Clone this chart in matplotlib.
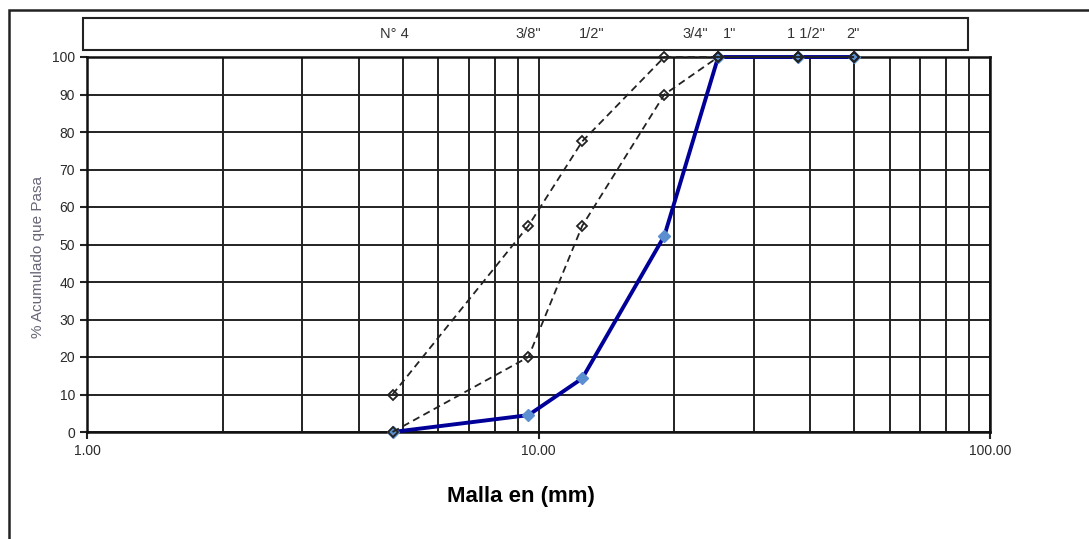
import numpy as np
import matplotlib
matplotlib.use('Agg')
import matplotlib.pyplot as plt
from matplotlib.patches import Rectangle
from matplotlib.transforms import blended_transform_factory

plt.rcParams['font.family'] = ['Liberation Sans', 'DejaVu Sans']

# datos de la granulometria
tamiz = [4.75, 9.5, 12.5, 19.0, 25.0, 37.5, 50.0]
pasa_muestra = [0, 4.5, 14.3, 52.3, 100, 100, 100]
lim_inferior = [0, 20, 55, 90, 100, 100, 100]
lim_superior = [10, 55, 77.5, 100, 100, 100, 100]

# etiquetas de los tamices (posicion del texto en mm)
nombres_tamiz = ['N° 4', '3/8"', '1/2"', '3/4"', '1"', '1 1/2"', '2"']
pos_nombres = [4.8, 9.5, 13.1, 22.2, 26.5, 39.1, 49.7]

fig = plt.figure(figsize=(10.89, 5.39), dpi=100)
ax = fig.add_axes([87/1089, 1-432/539, (990-87)/1089, (432-57)/539])

ax.set_xscale('log')
ax.set_xlim(1, 100)
ax.set_ylim(0, 100)
ax.set_yticks(np.arange(0, 101, 10))
ax.set_xticks([1, 10, 100])
ax.set_xticklabels(['1.00', '10.00', '100.00'])
ax.xaxis.set_minor_locator(matplotlib.ticker.LogLocator(subs=np.arange(2, 10)))
ax.xaxis.set_minor_formatter(matplotlib.ticker.NullFormatter())
ax.tick_params(axis='x', which='minor', length=0)
ax.tick_params(axis='both', which='major', labelsize=10, colors='#222222',
               labelcolor='#2a2a2a', width=1.5, length=5)
ax.grid(True, which='both', axis='x', color='#222222', lw=1.4)
ax.grid(True, which='major', axis='y', color='#222222', lw=1.4)
for s in ax.spines.values():
    s.set_linewidth(1.8)
    s.set_color('#111111')

# curva de la muestra
ax.plot(tamiz, pasa_muestra, '-', color='#000099', lw=2.8,
        marker='D', ms=6, mfc='#5b8fd0', mec='#5b8fd0', zorder=3, clip_on=False)
# limites (encima)
for lim in (lim_superior, lim_inferior):
    ax.plot(tamiz, lim, '--', color='#222222', lw=1.3, dashes=(4, 2.5),
            marker='D', ms=5.5, mfc='none', mec='#222222', mew=1.3,
            zorder=4, clip_on=False)

ax.set_xlabel('Malla en (mm)', fontsize=16, fontweight='bold')
ax.xaxis.set_label_coords(0.48, -0.145)
ax.set_ylabel('% Acumulado que Pasa', fontsize=11, color='#666677')
ax.yaxis.set_label_coords(-0.047, 0.467)

# recuadro superior con nombres de tamices
fig.add_artist(Rectangle((83/1089, 1-50/539), (968-83)/1089, 32/539,
                         transform=fig.transFigure, fill=False, lw=1.5, ec='#222222'))
tr = blended_transform_factory(ax.transData, fig.transFigure)
for n, p in zip(nombres_tamiz, pos_nombres):
    ax.text(p, 1-34/539, n, transform=tr, ha='center', va='center',
            fontsize=10.5, color='#333333')

# marco exterior
fig.add_artist(Rectangle((9/1089, -0.1), 1.2, 1.1-10/539, transform=fig.transFigure,
                         fill=False, lw=1.8, ec='#222222'))

plt.savefig('out.png', dpi=100)
